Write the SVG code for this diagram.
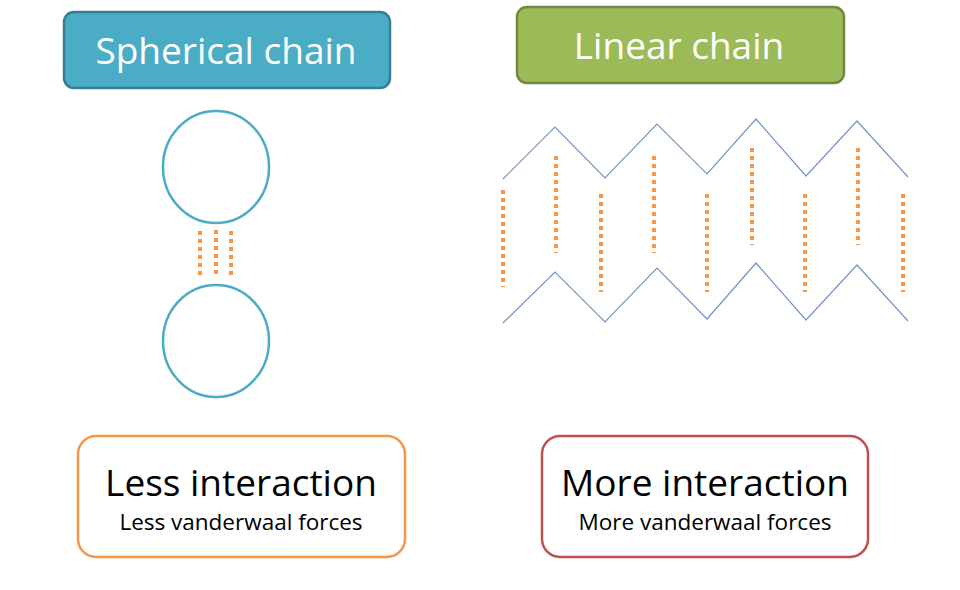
<svg xmlns="http://www.w3.org/2000/svg" width="960" height="590" viewBox="0 0 960 590">
<style>
.title{font-family:"Open Sans","Noto Sans",sans-serif;fill:#fff;text-anchor:middle;font-size:37px}
.big{font-family:"Open Sans","Noto Sans",sans-serif;fill:#000;text-anchor:middle;font-size:37px}
.small{font-family:"Open Sans","Noto Sans",sans-serif;fill:#000;text-anchor:middle;font-size:22.5px}
.dot{stroke:#F79646;stroke-width:4;stroke-dasharray:4 4;fill:none}
.zig{stroke:#6F95CC;stroke-width:1.2;fill:none}
.circ{stroke:#4BACC6;stroke-width:2.5;fill:#fff}
</style>
<rect width="960" height="590" fill="#fff"/>
<g id="spherical-title">
<rect x="64" y="12" width="326" height="76" rx="10" fill="#4BACC6" stroke="#357F93" stroke-width="2.5"/>
<text class="title" x="226" y="64">Spherical chain</text>
</g>
<g id="linear-title">
<rect x="517" y="7" width="327" height="76" rx="10" fill="#9BBB59" stroke="#71893F" stroke-width="2.5"/>
<text class="title" x="679" y="59">Linear chain</text>
</g>
<g id="spherical-chain">
<ellipse class="circ" cx="216" cy="167" rx="53" ry="56"/>
<ellipse class="circ" cx="216" cy="341" rx="53" ry="56"/>
<line class="dot" x1="200" y1="231" x2="200" y2="275"/>
<line class="dot" x1="216" y1="230" x2="216" y2="274"/>
<line class="dot" x1="231" y1="231" x2="231" y2="275"/>
</g>
<g id="linear-chain">
<polyline class="zig" points="503,179 555,127 605,178 657,124 707,174 756,119 806,176 857,121 908,177"/>
<polyline class="zig" points="503,323 555,272 605,322 657,268 707,319 756,263 806,320 857,265 908,321"/>
<line class="dot" x1="503" y1="190" x2="503" y2="287"/>
<line class="dot" x1="556" y1="156" x2="556" y2="253"/>
<line class="dot" x1="601" y1="194" x2="601" y2="292"/>
<line class="dot" x1="654" y1="156" x2="654" y2="253"/>
<line class="dot" x1="707" y1="194" x2="707" y2="292"/>
<line class="dot" x1="752" y1="148" x2="752" y2="245"/>
<line class="dot" x1="805" y1="194" x2="805" y2="292"/>
<line class="dot" x1="858" y1="148" x2="858" y2="245"/>
<line class="dot" x1="903" y1="194" x2="903" y2="292"/>
</g>
<g id="less-box">
<rect x="78" y="436" width="327" height="121" rx="18" fill="#fff" stroke="#F79646" stroke-width="2.5"/>
<text class="big" x="241" y="496">Less interaction</text>
<text class="small" x="241" y="530">Less vanderwaal forces</text>
</g>
<g id="more-box">
<rect x="542" y="436" width="326" height="121" rx="18" fill="#fff" stroke="#C0504D" stroke-width="2.5"/>
<text class="big" x="705" y="496">More interaction</text>
<text class="small" x="705" y="530">More vanderwaal forces</text>
</g>
<g id="connectors"></g>
</svg>
